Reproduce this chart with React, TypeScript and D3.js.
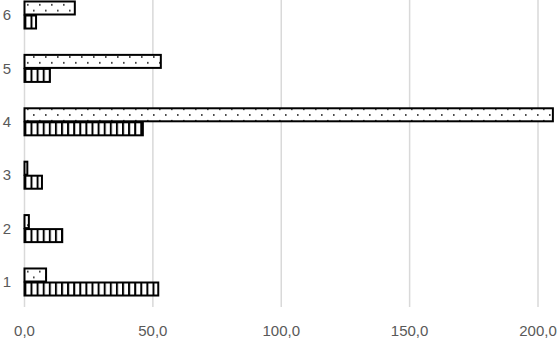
import React from "react";
import * as d3 from "d3";

const categories = ["1", "2", "3", "4", "5", "6"];
const stripedValues = [52.1, 14.7, 6.8, 46.1, 9.9, 4.5];
const dottedValues = [8.4, 1.7, 1.1, 205.8, 53.1, 19.6];
const xTicks = [0, 50, 100, 150, 200];

const W = 557;
const H = 340;

export default function App() {
  const x = d3.scaleLinear().domain([0, 200]).range([24.5, 538]);

  // category 1 at the bottom, 6 at the top (chart is cropped at the top edge)
  const y = d3
    .scaleBand<string>()
    .domain([...categories].reverse())
    .range([-11.7, 308.7])
    .paddingInner(0.475)
    .paddingOuter(0.2375);

  const sub = d3
    .scaleBand<string>()
    .domain(["dotted", "striped"])
    .range([0, y.bandwidth()])
    .padding(0);

  const fmt = (v: number) => d3.format(".1f")(v).replace(".", ",");
  const textColor = "#595959";
  const font = "'Liberation Sans', 'Open Sans', sans-serif";

  return (
    <div style={{ position: "fixed", left: 0, top: 0 }}>
      <svg width={W} height={H} style={{ display: "block", background: "#fff" }}>
        <defs>
          <pattern id="stripes" patternUnits="userSpaceOnUse" width={6.1} height={10}>
            <rect width={6.1} height={10} fill="#fff" />
            <rect x={0} y={0} width={2} height={10} fill="#000" />
          </pattern>
          <pattern id="dots" patternUnits="userSpaceOnUse" width={12} height={11.6}>
            <rect width={12} height={11.6} fill="#fff" />
            <rect x={3} y={4} width={1.6} height={1.6} fill="#222" />
            <rect x={9} y={9.8} width={1.6} height={1.6} fill="#222" />
          </pattern>
        </defs>

        {/* gridlines */}
        {xTicks.map(t => (
          <line
            key={t}
            x1={x(t)}
            x2={x(t)}
            y1={0}
            y2={307}
            stroke="#d9d9d9"
            strokeWidth={1.5}
          />
        ))}

        {/* bars */}
        {categories.map((c, i) => {
          const y0 = y(c) ?? 0;
          return (
            <g key={c}>
              <rect
                x={x(0)}
                y={y0 + (sub("dotted") ?? 0) + 0.5}
                width={x(dottedValues[i]) - x(0)}
                height={sub.bandwidth() - 1}
                fill="url(#dots)"
                stroke="#000"
                strokeWidth={2}
              />
              <rect
                x={x(0)}
                y={y0 + (sub("striped") ?? 0) + 0.5}
                width={x(stripedValues[i]) - x(0)}
                height={sub.bandwidth() - 1}
                fill="url(#stripes)"
                stroke="#000"
                strokeWidth={2}
              />
            </g>
          );
        })}

        {/* x tick labels */}
        {xTicks.map(t => (
          <text
            key={t}
            x={x(t)}
            y={336}
            textAnchor="middle"
            fontFamily={font}
            fontSize={15}
            fill={textColor}
          >
            {fmt(t)}
          </text>
        ))}

        {/* category labels */}
        {categories.map(c => (
          <text
            key={c}
            x={11}
            y={(y(c) ?? 0) + y.bandwidth() / 2}
            dy="0.35em"
            textAnchor="end"
            fontFamily={font}
            fontSize={15}
            fill={textColor}
          >
            {c}
          </text>
        ))}
      </svg>
    </div>
  );
}
